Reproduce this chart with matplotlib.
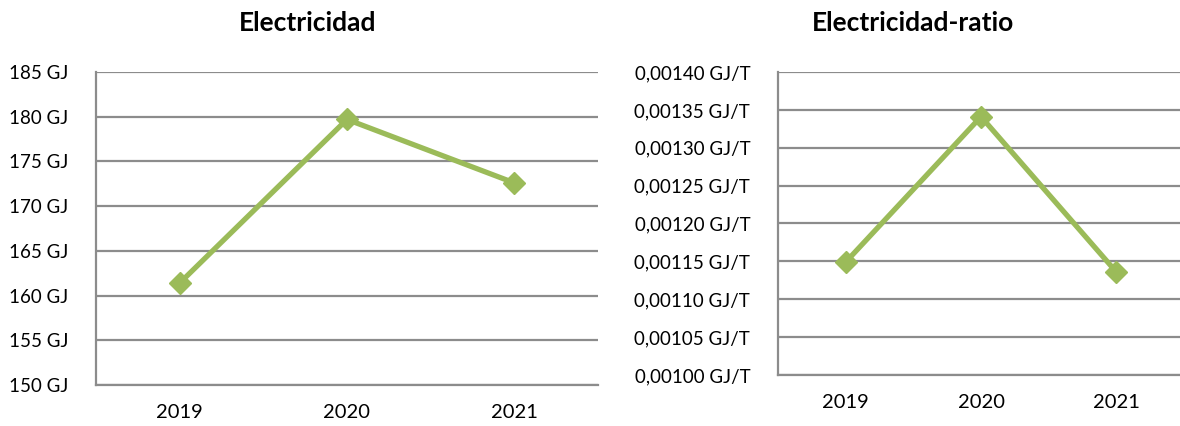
import numpy as np
import matplotlib.pyplot as plt
from matplotlib.ticker import FuncFormatter

years = ['2019', '2020', '2021']
energia = [161.4, 179.7, 172.6]
ratio = [0.001149, 0.001341, 0.001136]

plt.rcParams['font.family'] = ['Lato', 'DejaVu Sans']

verde = '#9BBB59'
gris = '#8C8C8C'

fig = plt.figure(figsize=(11.8, 4.26), dpi=100)
W, H = 1180, 426


def axes_px(x0, x1, y0, y1):
    return fig.add_axes([x0 / W, 1 - y1 / H, (x1 - x0) / W, (y1 - y0) / H])


def estilo(ax, pad):
    for s in ['top', 'right']:
        ax.spines[s].set_visible(False)
    for s in ['left', 'bottom']:
        ax.spines[s].set_color(gris)
        ax.spines[s].set_linewidth(1.6)
    ax.grid(axis='y', color=gris, linewidth=1.6)
    ax.set_axisbelow(True)
    ax.tick_params(length=0, labelsize=13.5, colors='black')
    ax.tick_params(axis='x', labelsize=14.5, pad=14)
    ax.tick_params(axis='y', pad=pad)


ax1 = axes_px(96, 598, 72, 385)
x = np.arange(len(years))
ax1.plot(x, energia, color=verde, linewidth=3.8, marker='D', markersize=11, clip_on=False)
ax1.set_xlim(-0.5, 2.5)
ax1.set_ylim(150, 185)
ax1.set_yticks(np.arange(150, 186, 5))
ax1.yaxis.set_major_formatter(FuncFormatter(lambda v, p: f'{v:.0f} GJ'))
ax1.set_xticks(x)
ax1.set_xticklabels(years)
estilo(ax1, 20)

ax2 = axes_px(778, 1184, 72, 375)
ax2.plot(x, ratio, color=verde, linewidth=3.8, marker='D', markersize=11, clip_on=False)
ax2.set_xlim(-0.5, 2.5)
ax2.set_ylim(0.00100, 0.00140)
ax2.set_yticks(np.linspace(0.00100, 0.00140, 9))
ax2.yaxis.set_major_formatter(FuncFormatter(lambda v, p: f'{v:.5f}'.replace('.', ',') + ' GJ/T'))
ax2.set_xticks(x)
ax2.set_xticklabels(years)
estilo(ax2, 20)

fig.text(308 / W, 1 - 23 / H, 'Electricidad', ha='center', va='center', fontsize=19, fontweight='bold')
fig.text(913 / W, 1 - 23 / H, 'Electricidad-ratio', ha='center', va='center', fontsize=19, fontweight='bold')

fig.savefig('out.png', dpi=100)
